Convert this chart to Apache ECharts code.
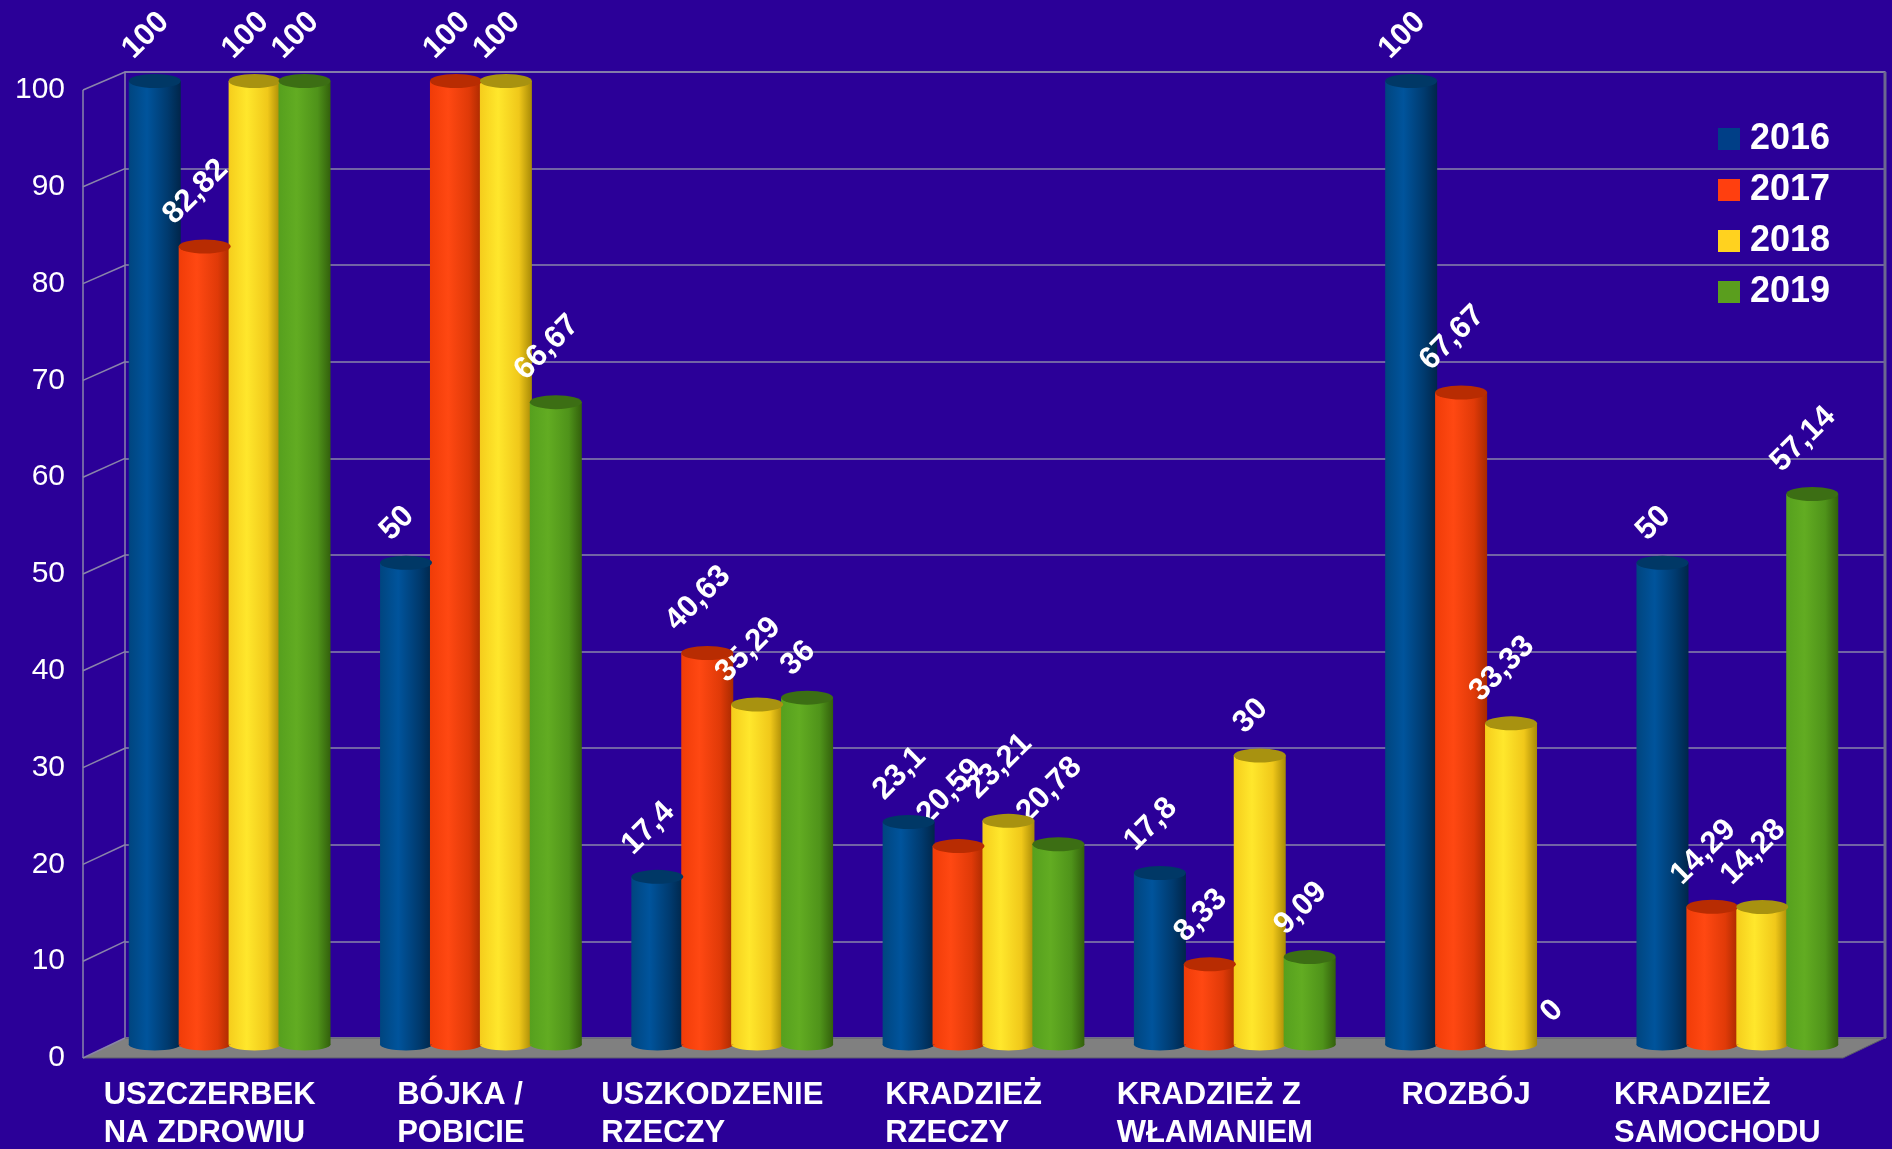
<!DOCTYPE html>
<html>
<head>
<meta charset="utf-8">
<script src="https://cdn.jsdelivr.net/npm/echarts@6/dist/echarts.min.js"></script>
<style>
  html, body { margin: 0; padding: 0; background: #2b0098; }
  #chart { width: 1892px; height: 1149px; }
</style>
</head>
<body>
<div id="chart"></div>
<script>
// data
const categories = [
  'USZCZERBEK\nNA ZDROWIU',
  'BÓJKA /\nPOBICIE',
  'USZKODZENIE\nRZECZY',
  'KRADZIEŻ\nRZECZY',
  'KRADZIEŻ Z\nWŁAMANIEM',
  'ROZBÓJ',
  'KRADZIEŻ\nSAMOCHODU'
]
const years = ['2016', '2017', '2018', '2019']
const values2016 = [100, 50, 17.4, 23.1, 17.8, 100, 50]
const values2017 = [82.82, 100, 40.63, 20.59, 8.33, 67.67, 14.29]
const values2018 = [100, 100, 35.29, 23.21, 30, 33.33, 14.28]
const values2019 = [100, 66.67, 36, 20.78, 9.09, 0, 57.14]
const yTicks = [0, 10, 20, 30, 40, 50, 60, 70, 80, 90, 100]

const allValues = [values2016, values2017, values2018, values2019]

const FONT = '"Liberation Sans", Arial, sans-serif'
const gridColor = '#8a84aa'
const LABEL_SIZE = 31

// colours per year: legend, edge, light, shade, dark, top
const palette = [
  { legend: '#003f87', edge: '#00457f', light: '#00549c', shade: '#003a6e', dark: '#00264a', top: '#003866' },
  { legend: '#ff3f0f', edge: '#f03c08', light: '#ff4812', shade: '#e03a08', dark: '#a82a00', top: '#b82c02' },
  { legend: '#ffd21f', edge: '#f5cd1c', light: '#ffe72c', shade: '#f0c81a', dark: '#a88a06', top: '#a89210' },
  { legend: '#5a9e1e', edge: '#56a01e', light: '#62ac22', shade: '#4f931a', dark: '#33600c', top: '#3c6e14' }
]

// layout of the fake 3d box
const BACK = { left: 125, right: 1885, top: 72, bottom: 1038 }
const FRONT = { x: 83, right: 1843, top: 90, bottom: 1058 }
const BARS = { left: 104, right: 1863, top: 81, bottom: 1046 }
const BAR_W = 52
const BAR_GAP = -0.04

const fmt = v => String(v).replace('.', ',')

const ctx = document.createElement('canvas').getContext('2d')
ctx.font = 'bold ' + LABEL_SIZE + 'px "Liberation Sans"'
const textWidth = s => ctx.measureText(s).width

// label offset is applied in the rotated (45deg) frame, so turn the wanted screen shift back
const C45 = Math.SQRT1_2
const labelOffset = s => {
  const dx = -9
  const dy = -(textWidth(s) + LABEL_SIZE * 0.75) * C45 / 2
  return [C45 * (dx - dy), C45 * (dx + dy)]
}

const cylinder = p => new echarts.graphic.LinearGradient(0, 0, 1, 0, [
  { offset: 0, color: p.edge },
  { offset: 0.35, color: p.light },
  { offset: 0.75, color: p.shade },
  { offset: 1, color: p.dark }
])

const pitch = BAR_W * (1 + BAR_GAP)
const barShift = i => (i - 1.5) * pitch

const series = []
years.forEach((y, i) => {
  series.push({
    name: y,
    type: 'bar',
    xAxisIndex: 1,
    yAxisIndex: 1,
    barWidth: BAR_W,
    barGap: (BAR_GAP * 100) + '%',
    z: 3,
    itemStyle: { color: cylinder(palette[i]) },
    label: {
      show: true,
      position: 'top',
      distance: 19,
      rotate: 45,
      align: 'center',
      verticalAlign: 'middle',
      color: '#fff',
      fontSize: LABEL_SIZE,
      fontWeight: 'bold',
      fontFamily: FONT,
      formatter: p => fmt(p.value)
    },
    data: allValues[i].map(v => ({
      value: v,
      label: { offset: labelOffset(fmt(v)) }
    }))
  })
})
years.forEach((y, i) => {
  // bottom rounding
  series.push({
    name: y + ' bottom',
    type: 'pictorialBar',
    xAxisIndex: 1,
    yAxisIndex: 1,
    symbol: 'circle',
    symbolSize: [BAR_W, 12],
    symbolPosition: 'start',
    symbolOffset: [barShift(i), '50%'],
    barWidth: BAR_W,
    barGap: '-100%',
    z: 2,
    silent: true,
    itemStyle: { color: cylinder(palette[i]) },
    data: allValues[i].map(v => (v > 0 ? v : '-'))
  })
  // top ellipse
  series.push({
    name: y + ' top',
    type: 'pictorialBar',
    xAxisIndex: 1,
    yAxisIndex: 1,
    symbol: 'circle',
    symbolSize: [BAR_W, 14],
    symbolPosition: 'end',
    symbolOffset: [barShift(i), '-50%'],
    barWidth: BAR_W,
    barGap: '-100%',
    z: 4,
    silent: true,
    itemStyle: { color: palette[i].top },
    data: allValues[i].map(v => (v > 0 ? v : '-'))
  })
})

// left wall and floor
const yFront = v => FRONT.bottom - (FRONT.bottom - FRONT.top) * v / 100
const yBack = v => BACK.bottom - (BACK.bottom - BACK.top) * v / 100
const wallLines = yTicks.map(v => ({
  type: 'line',
  z: 1,
  silent: true,
  shape: { x1: FRONT.x, y1: yFront(v), x2: BACK.left, y2: yBack(v) },
  style: { stroke: gridColor, lineWidth: 1.5 }
}))

const graphic = [
  {
    type: 'polygon',
    z: 1,
    silent: true,
    shape: { points: [[FRONT.x, FRONT.bottom], [FRONT.right, FRONT.bottom], [BACK.right, BACK.bottom], [BACK.left, BACK.bottom]] },
    style: { fill: '#808080', stroke: '#5c5c6c', lineWidth: 1 }
  },
  {
    type: 'line',
    z: 1,
    silent: true,
    shape: { x1: FRONT.x, y1: FRONT.top, x2: FRONT.x, y2: FRONT.bottom },
    style: { stroke: gridColor, lineWidth: 1.5 }
  },
  {
    type: 'line',
    z: 1,
    silent: true,
    shape: { x1: BACK.right, y1: BACK.top, x2: BACK.right, y2: BACK.bottom },
    style: { stroke: '#6c6890', lineWidth: 3 }
  }
].concat(wallLines)

const chart = echarts.init(document.getElementById('chart'))
chart.setOption({
  backgroundColor: '#2b0098',
  animation: false,
  textStyle: { fontFamily: FONT },
  legend: {
    orient: 'vertical',
    left: 1713,
    top: 114,
    itemWidth: 22,
    itemHeight: 22,
    itemGap: 11,
    icon: 'rect',
    data: years.map((y, i) => ({ name: y, itemStyle: { color: palette[i].legend } })),
    textStyle: { color: '#fff', fontSize: 36, fontWeight: 'bold', fontFamily: FONT, lineHeight: 40, padding: [0, 0, 0, 5] }
  },
  graphic: graphic,
  grid: [
    { left: BACK.left, right: 1892 - BACK.right, top: BACK.top, bottom: 1149 - BACK.bottom, show: true, borderColor: gridColor, borderWidth: 1.5 },
    { left: BARS.left, right: 1892 - BARS.right, top: BARS.top, bottom: 1149 - BARS.bottom },
    { left: FRONT.x, width: 1, top: FRONT.top, bottom: 1149 - FRONT.bottom }
  ],
  xAxis: [
    { gridIndex: 0, type: 'value', min: 0, max: 1, show: false },
    {
      gridIndex: 1,
      type: 'category',
      data: categories,
      axisLine: { show: false },
      axisTick: { show: false },
      axisLabel: {
        interval: 0,
        margin: 32,
        verticalAlign: 'top',
        padding: [0, 40, 0, 0],
        formatter: v => v.split('\n').map(s => '{a|' + s + '}').join('\n'),
        rich: { a: { align: 'left', color: '#fff', fontSize: 31, fontWeight: 'bold', fontFamily: FONT, lineHeight: 38 } }
      }
    },
    { gridIndex: 2, type: 'value', min: 0, max: 1, show: false }
  ],
  yAxis: [
    {
      gridIndex: 0, type: 'value', min: 0, max: 100, interval: 10,
      axisLabel: { show: false }, axisLine: { show: false }, axisTick: { show: false },
      splitLine: { lineStyle: { color: gridColor, width: 1.5 } }
    },
    { gridIndex: 1, type: 'value', min: 0, max: 100, show: false },
    {
      gridIndex: 2, type: 'value', min: 0, max: 100, interval: 10,
      axisLine: { show: false }, axisTick: { show: false }, splitLine: { show: false },
      axisLabel: { color: '#fff', fontSize: 30, fontFamily: FONT, margin: 18 }
    }
  ],
  series: series
})
</script>
</body>
</html>
